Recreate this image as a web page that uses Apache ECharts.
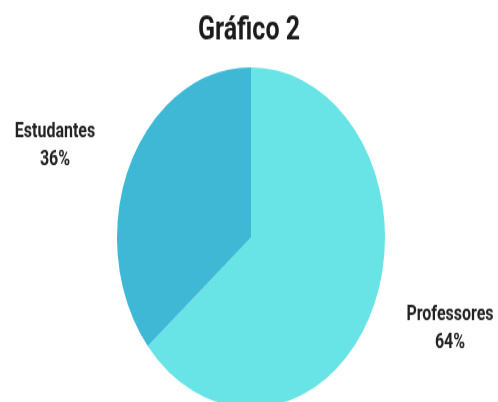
<!DOCTYPE html>
<html>
<head>
<meta charset="utf-8">
<script src="https://cdn.jsdelivr.net/npm/echarts@6/dist/echarts.min.js"></script>
<style>
  html, body { margin: 0; padding: 0; background: #fff; overflow: hidden; }
  #wrap { width: 498px; height: 402px; overflow: hidden; position: relative; }
  /* chart is drawn on a shorter canvas and stretched vertically, giving the oval pie */
  #chart { width: 498px; height: 317px; transform: scaleY(1.27); transform-origin: 0 0; }
</style>
</head>
<body>
<div id="wrap"><div id="chart"></div></div>
<script>
const titleText = 'Gráfico 2';
const categories = ['Professores', 'Estudantes'];
const values = [64, 36];
const colors = ['#68e3e6', '#3fb8d6'];

const chart = echarts.init(document.getElementById('chart'), null, { renderer: 'canvas' });

chart.setOption({
  animation: false,
  title: {
    text: titleText,
    left: 'center',
    top: 7,
    textStyle: { fontFamily: 'Roboto', fontWeight: 'bold', fontSize: 25, color: '#1b1b1b' }
  },
  series: [{
    type: 'pie',
    center: [251, 187],
    radius: 134,
    startAngle: 90,
    clockwise: true,
    data: categories.map((name, i) => ({ name, value: values[i], itemStyle: { color: colors[i] } })),
    label: {
      show: true,
      position: 'outside',
      formatter: '{b}\n{d}%',
      fontFamily: 'Roboto',
      fontWeight: 'bold',
      fontSize: 16,
      lineHeight: 22,
      color: '#222',
      overflow: 'none',
      textAlign: 'center'
    },
    labelLine: { show: false, length: 30, length2: 30 },
    labelLayout: function (p) {
      const left = p.dataIndex === 1;
      return { x: left ? 55 : 450, y: left ? 115 : 259, align: 'center', verticalAlign: 'middle' };
    },
    emphasis: { disabled: true }
  }]
});
</script>
</body>
</html>
